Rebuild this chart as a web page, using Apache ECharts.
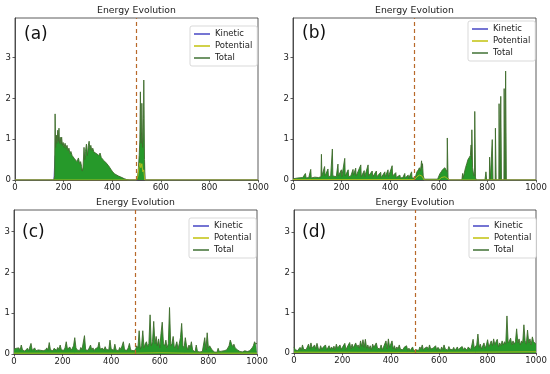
<!DOCTYPE html>
<html><head><meta charset="utf-8">
<script src="https://cdn.jsdelivr.net/npm/echarts@6/dist/echarts.min.js"></script>
<style>html,body{margin:0;padding:0;background:#fff}#c{width:550px;height:374px}</style>
</head><body><div id="c"></div>
<script>
// ---- data ----
const panelLabels = ['(a)', '(b)', '(c)', '(d)'];
const titleText = 'Energy Evolution';
const seriesNames = ['Kinetic', 'Potential', 'Total'];
const xTicks = [0, 200, 400, 600, 800, 1000];
const yTicks = [0, 1, 2, 3];
const switchStep = 500;
const STEP = 5; // sampling step of the (c), (d) series

// (a) total energy [step, value]
const A_total = [[0,0],[160,0],[163,0.1],[165,1.62],[167,0.8],[170,1.1],[173,0.9],[176,1.22],[178,0.95],[181,1.27],[183,0.9],[186,1.05],[189,0.88],[192,1.05],[195,0.85],[198,0.92],[202,0.8],[206,0.9],[210,0.78],[214,0.85],[218,0.72],[222,0.78],[226,0.65],[230,0.7],[235,0.6],[240,0.63],[245,0.52],[250,0.56],[255,0.45],[261,0.54],[266,0.4],[270,0.45],[274,0.33],[277,0.22],[280,0.3],[284,0.8],[287,0.5],[290,0.7],[294,0.88],[298,0.6],[302,0.85],[305,0.95],[308,0.75],[312,0.85],[316,0.72],[320,0.78],[325,0.68],[330,0.7],[335,0.65],[340,0.62],[345,0.6],[350,0.66],[355,0.55],[360,0.52],[365,0.48],[370,0.45],[375,0.42],[380,0.38],[385,0.35],[391,0.33],[396,0.25],[402,0.2],[410,0.15],[418,0.12],[425,0.1],[432,0.08],[440,0.06],[450,0.03],[460,0.01],[470,0],[502,0],[505,0.1],[508,0.3],[511,0.6],[514,1.0],[516,2.16],[518,2.16],[519,0.9],[521,1.2],[522,1.88],[524,1.88],[525,0.8],[527,1.0],[529,1.5],[530,2.45],[532,2.45],[533,0.5],[535,0],[1000,0]];
const A_pot = [[0,0],[500,0],[506,0.1],[510,0.3],[514,0.42],[518,0.3],[522,0.4],[526,0.2],[530,0.25],[534,0],[1000,0]];
const A_kin = [[0,0],[160,0],[165,0.6],[200,0.6],[250,0.35],[280,0.15],[300,0.5],[350,0.4],[400,0.15],[450,0.02],[470,0],[505,0],[517,0.6],[531,0.4],[535,0],[1000,0]];

// (b) total energy [step, value]
const B_total = [[0,0.03],[20,0.05],[40,0.06],[48,0.04],[51,0.16],[54,0.05],[65,0.06],[71,0.05],[73,0.26],[75,0.05],[90,0.07],[105,0.06],[115,0.08],[117,0.63],[119,0.1],[125,0.12],[130,0.33],[132,0.1],[138,0.12],[144,0.27],[146,0.08],[155,0.1],[162,0.76],[164,0.1],[172,0.12],[178,0.08],[185,0.39],[187,0.1],[193,0.08],[199,0.25],[201,0.08],[207,0.12],[213,0.53],[215,0.1],[220,0.08],[227,0.25],[229,0.08],[238,0.1],[247,0.26],[249,0.12],[253,0.1],[258,0.29],[260,0.1],[268,0.12],[279,0.37],[281,0.08],[288,0.1],[293,0.23],[295,0.08],[302,0.12],[309,0.37],[311,0.1],[318,0.1],[326,0.22],[328,0.08],[335,0.1],[343,0.22],[345,0.08],[352,0.1],[361,0.19],[363,0.06],[370,0.1],[378,0.2],[380,0.08],[385,0.1],[391,0.25],[393,0.08],[400,0.12],[408,0.35],[410,0.1],[416,0.08],[423,0.18],[425,0.06],[432,0.06],[440,0.12],[442,0.05],[452,0.06],[460,0.16],[462,0.05],[468,0.06],[474,0.12],[476,0.04],[482,0.06],[488,0.2],[490,0.05],[500,0.05],[505,0.1],[510,0.2],[512,0.16],[516,0.25],[520,0.3],[524,0.22],[527,0.35],[529,0.47],[531,0.3],[533,0.4],[536,0.1],[540,0.02],[595,0.02],[600,0.05],[604,0.15],[610,0.2],[615,0.25],[620,0.22],[625,0.3],[630,0.28],[634,0.2],[635,1.03],[637,1.03],[638,0.05],[642,0],[695,0],[698,0.16],[700,0.05],[704,0.15],[710,0.3],[715,0.4],[720,0.5],[725,0.55],[730,0.6],[733,0.86],[735,0.5],[736,1.23],[738,1.23],[739,0.3],[744,0.1],[747,0.2],[748,1.68],[750,1.68],[751,0.05],[755,0],[790,0],[794,0.2],[797,0],[808,0],[809,0.56],[811,0.56],[812,0],[819,0],[820,0.99],[822,0.99],[823,0],[832,0],[833,1.27],[835,1.27],[836,0],[847,0],[848,1.87],[850,1.87],[851,0],[854,0],[855,2.05],[857,2.05],[858,0],[868,0],[869,2.24],[871,2.24],[872,0],[874,0],[875,2.67],[877,2.67],[878,0],[1000,0]];
const B_pot = [[0,0.01],[500,0.01],[510,0.08],[520,0.12],[530,0.1],[540,0],[600,0],[610,0.06],[625,0.08],[635,0.04],[645,0],[1000,0]];
const B_kin = [[0,0.01],[500,0.02],[520,0.1],[540,0],[600,0],[620,0.1],[640,0],[700,0],[730,0.2],[755,0],[1000,0]];

// (c) total energy, one value every STEP steps from 0 to 1000
const C_total = [
 0.12,0.08,0.14,0.1,0.15,0.09,0.22,0.1,0.13,0.07,
 0.1,0.14,0.08,0.12,0.26,0.09,0.11,0.15,0.08,0.12,
 0.1,0.06,0.09,0.13,0.08,0.12,0.1,0.15,0.09,0.28,
 0.1,0.12,0.08,0.14,0.1,0.09,0.16,0.11,0.22,0.1,
 0.13,0.09,0.15,0.3,0.12,0.1,0.17,0.09,0.14,0.2,
 0.4,0.15,0.1,0.13,0.08,0.16,0.11,0.12,0.45,0.1,
 0.14,0.09,0.12,0.22,0.1,0.15,0.08,0.13,0.1,0.16,
 0.29,0.12,0.1,0.14,0.09,0.18,0.11,0.13,0.1,0.34,
 0.12,0.15,0.09,0.24,0.1,0.13,0.08,0.16,0.11,0.14,
 0.3,0.1,0.12,0.09,0.15,0.26,0.1,0.13,0.08,0.11,
 0.1,0.2,0.15,0.57,0.12,0.2,0.57,0.15,0.25,0.3,
 0.18,0.25,0.96,0.2,0.3,0.8,0.25,0.43,0.2,0.37,
 0.15,0.5,0.78,0.25,0.2,0.34,0.15,0.25,1.14,0.2,
 0.25,0.43,0.15,0.2,0.3,0.12,0.25,0.4,0.75,0.2,
 0.15,0.4,0.2,0.1,0.22,0.15,0.3,0.1,0.08,0.05,
 0.22,0.06,0.04,0.05,0.03,0.06,0.08,0.4,0.1,0.52,
 0.15,0.2,0.22,0.1,0.08,0.05,0.07,0.04,0.14,0.06,
 0.05,0.07,0.04,0.08,0.06,0.1,0.15,0.2,0.34,0.25,
 0.18,0.24,0.15,0.12,0.1,0.08,0.06,0.07,0.05,0.06,
 0.08,0.1,0.06,0.05,0.08,0.1,0.15,0.2,0.3,0.24,
 0.27];
const C_pot = [[0,0.02],[250,0.02],[500,0.02],[600,0.03],[700,0.02],[1000,0.02]];
const C_kin = [[0,0.04],[250,0.05],[500,0.05],[600,0.1],[700,0.05],[800,0.03],[1000,0.05]];

// (d) total energy, one value every STEP steps from 0 to 1000
const D_total = [
 0.15,0.08,0.12,0.06,0.1,0.14,0.07,0.2,0.09,0.12,
 0.08,0.15,0.22,0.1,0.25,0.12,0.08,0.2,0.1,0.24,
 0.12,0.07,0.18,0.09,0.14,0.1,0.2,0.08,0.13,0.18,
 0.09,0.15,0.1,0.17,0.08,0.22,0.12,0.1,0.2,0.09,
 0.14,0.1,0.24,0.08,0.15,0.12,0.26,0.1,0.22,0.13,
 0.1,0.25,0.15,0.2,0.12,0.3,0.16,0.33,0.14,0.34,
 0.12,0.2,0.1,0.18,0.08,0.22,0.14,0.1,0.25,0.12,
 0.16,0.1,0.2,0.08,0.15,0.12,0.3,0.1,0.35,0.14,
 0.12,0.3,0.1,0.18,0.08,0.15,0.1,0.2,0.09,0.12,
 0.08,0.14,0.1,0.18,0.07,0.12,0.06,0.1,0.15,0.05,
 0.04,0.08,0.12,0.06,0.15,0.1,0.2,0.07,0.12,0.09,
 0.15,0.08,0.2,0.1,0.06,0.12,0.09,0.18,0.07,0.14,
 0.1,0.06,0.15,0.08,0.2,0.1,0.12,0.07,0.16,0.09,
 0.12,0.08,0.14,0.06,0.1,0.15,0.07,0.12,0.09,0.16,
 0.08,0.13,0.1,0.07,0.15,0.12,0.08,0.2,0.34,0.12,
 0.15,0.2,0.47,0.14,0.22,0.1,0.18,0.25,0.12,0.2,
 0.33,0.15,0.22,0.3,0.18,0.35,0.2,0.28,0.34,0.15,
 0.25,0.18,0.3,0.2,0.28,0.22,0.92,0.25,0.3,0.37,
 0.2,0.3,0.22,0.28,0.6,0.25,0.35,0.2,0.3,0.25,
 0.7,0.3,0.22,0.57,0.25,0.35,0.2,0.4,0.28,0.3,
 0.22];
const D_pot = [[0,0.02],[500,0.015],[750,0.02],[1000,0.03]];
const D_kin = [[0,0.04],[250,0.05],[500,0.03],[750,0.05],[1000,0.06]];

const yMax = [3.97, 3.97, 3.53, 3.55];

// ---- build ----
const stepPairs = arr => arr.map((v, i) => [i * STEP, v]);
const panels = [
  {kin: A_kin, pot: A_pot, tot: A_total},
  {kin: B_kin, pot: B_pot, tot: B_total},
  {kin: C_kin, pot: C_pot, tot: stepPairs(C_total)},
  {kin: D_kin, pot: D_pot, tot: stepPairs(D_total)}
];
const gridBoxes = [
  {left: 15, top: 18, width: 243, height: 162},
  {left: 293, top: 18, width: 243, height: 162},
  {left: 14, top: 210, width: 243, height: 144},
  {left: 294, top: 210, width: 242, height: 143}
];
const legendPos = [
  {left: 190, top: 26}, {left: 468, top: 21}, {left: 189, top: 218}, {left: 469, top: 218}
];
const titlePos = [[136.5, 10.5], [414.5, 10.5], [135.5, 202.5], [415, 202.5]];
const labelPos = [[24, 35], [302, 34], [22, 233], [302, 233]];

const FONT = 'DejaVu Sans';
const C_KIN = '#5252c8', C_POT = '#c6c61c', C_TOT_LINE = '#3f6c2c', C_TOT_FILL = '#26992a', C_TOT_LEG = '#4c7a40';

const grid = gridBoxes.map(g => Object.assign({show: true, borderColor: '#333', borderWidth: 0.8, backgroundColor: 'transparent'}, g));
const xAxis = gridBoxes.map((g, i) => ({
  type: 'value', gridIndex: i, min: xTicks[0], max: xTicks[xTicks.length - 1], interval: xTicks[1] - xTicks[0],
  axisLine: {show: true, lineStyle: {color: '#333', width: 0.8}},
  axisTick: {show: true, length: 2.5, lineStyle: {color: '#333', width: 0.8}},
  axisLabel: {fontFamily: FONT, fontSize: 8.5, color: '#222', margin: 3, formatter: v => String(v)},
  splitLine: {show: false}
}));
const yAxis = gridBoxes.map((g, i) => ({
  type: 'value', gridIndex: i, min: 0, max: yMax[i],
  axisLine: {show: true, lineStyle: {color: '#333', width: 0.8}},
  axisTick: {show: true, length: 2.5, customValues: yTicks, lineStyle: {color: '#333', width: 0.8}},
  axisLabel: {fontFamily: FONT, fontSize: 8.5, color: '#222', margin: 4, customValues: yTicks},
  splitLine: {show: false}
}));
const series = [];
panels.forEach((p, i) => {
  series.push({
    name: seriesNames[0], type: 'line', xAxisIndex: i, yAxisIndex: i, data: p.kin,
    showSymbol: false, symbol: 'none', lineStyle: {color: C_KIN, width: 0.8}, itemStyle: {color: C_KIN}, z: 2
  });
  series.push({
    name: seriesNames[2], type: 'line', xAxisIndex: i, yAxisIndex: i, data: p.tot,
    showSymbol: false, symbol: 'none', lineStyle: {color: C_TOT_LINE, width: 0.9},
    areaStyle: {color: C_TOT_FILL, opacity: 1}, itemStyle: {color: C_TOT_LEG}, z: 3,
    markLine: {silent: true, symbol: 'none', label: {show: false}, animation: false,
      lineStyle: {type: [4, 3], color: '#b8692a', width: 1.2}, data: [{xAxis: switchStep}]}
  });
  series.push({
    name: seriesNames[1], type: 'line', xAxisIndex: i, yAxisIndex: i, data: p.pot,
    showSymbol: false, symbol: 'none', lineStyle: {color: C_POT, width: 0.8}, itemStyle: {color: C_POT}, z: 4
  });
});
const legend = legendPos.map(lp => ({
  left: lp.left, top: lp.top, orient: 'vertical', data: seriesNames,
  icon: 'rect', itemWidth: 16, itemHeight: 1.6, itemGap: 2, selectedMode: false,
  textStyle: {fontFamily: FONT, fontSize: 8.5, color: '#222', lineHeight: 10},
  borderColor: '#cfcfcf', borderWidth: 0.8, borderRadius: 2, padding: [3, 5, 3, 4], backgroundColor: '#fff'
}));
const graphic = [];
titlePos.forEach(tp => graphic.push({type: 'text', x: tp[0], y: tp[1], z: 10,
  style: {text: titleText, font: '9.3px "DejaVu Sans"', fill: '#222', textAlign: 'center', textVerticalAlign: 'middle'}}));
labelPos.forEach((lp, i) => graphic.push({type: 'text', x: lp[0], y: lp[1], z: 10,
  style: {text: panelLabels[i], font: '17px "DejaVu Sans"', fill: '#111', textAlign: 'left', textVerticalAlign: 'middle'}}));

const chart = echarts.init(document.getElementById('c'), null, {renderer: 'canvas'});
chart.setOption({animation: false, grid, xAxis, yAxis, series, legend, graphic});
</script></body></html>
